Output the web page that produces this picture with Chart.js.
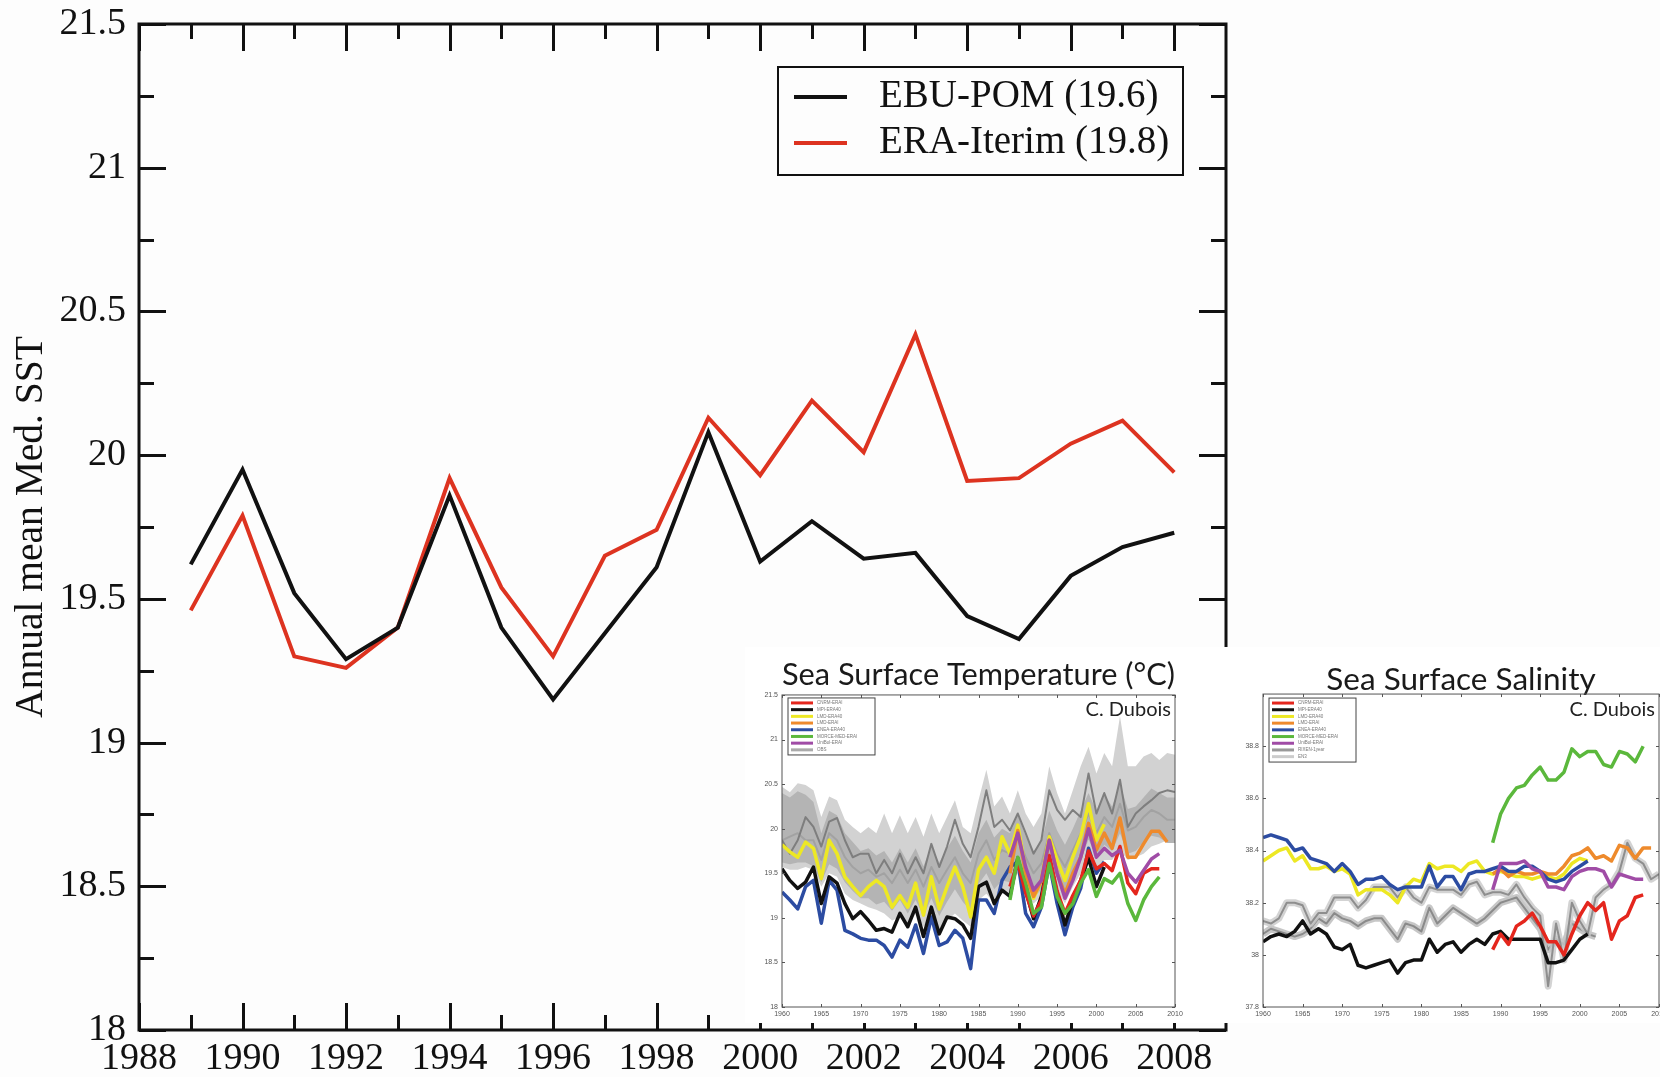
<!DOCTYPE html>
<html>
<head>
<meta charset="utf-8">
<script src="https://cdn.jsdelivr.net/npm/chart.js@4.4.1/dist/chart.umd.min.js"></script>
<style>
  html, body { margin: 0; padding: 0; background: #fdfdfd; overflow: hidden; }
  .box { position: absolute; }
  #main { left: 0; top: 0; }
  .inset { background: #ffffff; }
  #sst { left: 745px; top: 647px; }
  #sss { left: 1232px; top: 647px; }
</style>
</head>
<body>
<div class="box" id="main"><canvas id="mainChart" width="1660" height="1077"></canvas></div>
<div class="box inset" id="sst"><canvas id="sstChart" width="487" height="376"></canvas></div>
<div class="box inset" id="sss"><canvas id="sssChart" width="428" height="376"></canvas></div>
<script>
const range = (a, b) => Array.from({ length: b - a + 1 }, (_, i) => a + i);

// ---- main chart: annual mean Med. SST ----
const mainYears = range(1989, 2008);
const ebuPom = [19.62, 19.95, 19.52, 19.29, 19.40, 19.86, 19.40, 19.15, 19.38, 19.61,
                20.08, 19.63, 19.77, 19.64, 19.66, 19.44, 19.36, 19.58, 19.68, 19.73];
const eraInterim = [19.46, 19.79, 19.30, 19.26, 19.40, 19.92, 19.54, 19.30, 19.65, 19.74,
                    20.13, 19.93, 20.19, 20.01, 20.42, 19.91, 19.92, 20.04, 20.12, 19.94];
const mainXTicks = [1988, 1990, 1992, 1994, 1996, 1998, 2000, 2002, 2004, 2006, 2008];
const mainXMinor = [1989, 1991, 1993, 1995, 1997, 1999, 2001, 2003, 2005, 2007];
const mainYTicks = [18, 18.5, 19, 19.5, 20, 20.5, 21, 21.5];
const mainYMinor = [18.25, 18.75, 19.25, 19.75, 20.25, 20.75, 21.25];

// ---- inset 1: Sea Surface Temperature ----
const obsYears = range(1960, 2010);
const modelYears = range(1960, 2001);
const eraiYears = range(1989, 2008);
const eraiYearsLong = range(1989, 2009);
const insetXTicks = [1960, 1965, 1970, 1975, 1980, 1985, 1990, 1995, 2000, 2005, 2010];
const sstYTicks = [18, 18.5, 19, 19.5, 20, 20.5, 21, 21.5];

const sstCnrm = [19.35, 19.62, 19.28, 19.02, 19.20, 19.70, 19.30, 19.05, 19.25, 19.42,
                 19.75, 19.55, 19.61, 19.53, 19.80, 19.39, 19.27, 19.50, 19.55, 19.55];
const sstMpi = [19.55, 19.42, 19.33, 19.40, 19.57, 19.16, 19.46, 19.39, 19.16, 18.99,
                19.07, 18.97, 18.86, 18.88, 18.84, 19.05, 18.90, 19.12, 18.79, 19.12,
                18.82, 19.01, 18.99, 18.92, 18.77, 19.35, 19.40, 19.16, 19.31, 19.24,
                19.67, 19.31, 18.99, 19.24, 19.68, 19.27, 18.92, 19.20, 19.42, 19.67,
                19.35, 19.57];
const sstLmd40 = [19.82, 19.74, 19.68, 19.85, 19.78, 19.44, 19.87, 19.72, 19.46, 19.35,
                  19.25, 19.35, 19.42, 19.35, 19.12, 19.25, 19.12, 19.39, 19.03, 19.46,
                  19.10, 19.35, 19.57, 19.35, 19.01, 19.54, 19.68, 19.50, 19.91, 19.72,
                  20.04, 19.54, 19.22, 19.42, 19.91, 19.65, 19.42, 19.68, 19.91, 20.28,
                  19.87, 20.05];
const sstLmdErai = [19.50, 19.98, 19.50, 19.24, 19.42, 19.87, 19.50, 19.27, 19.50, 19.68,
                    20.06, 19.76, 19.95, 19.78, 20.12, 19.68, 19.68, 19.83, 19.97, 19.97, 19.85];
const sstEnea = [19.29, 19.20, 19.10, 19.35, 19.42, 18.94, 19.42, 19.31, 18.86, 18.82,
                 18.77, 18.75, 18.75, 18.69, 18.56, 18.75, 18.67, 18.92, 18.60, 19.01,
                 18.69, 18.73, 18.86, 18.77, 18.43, 19.20, 19.20, 19.05, 19.42, 19.57,
                 19.63, 19.05, 18.90, 19.12, 19.61, 19.16, 18.81, 19.12, 19.33, 19.78,
                 19.50, 19.63];
const sstMorce = [19.20, 19.68, 19.39, 19.05, 19.12, 19.61, 19.24, 19.05, 19.16, 19.39,
                  19.54, 19.24, 19.44, 19.39, 19.50, 19.16, 18.97, 19.20, 19.35, 19.46];
const sstUnibol = [19.68, 19.95, 19.57, 19.31, 19.42, 19.87, 19.50, 19.22, 19.42, 19.68,
                   20.00, 19.68, 19.78, 19.70, 19.76, 19.50, 19.40, 19.53, 19.66, 19.72];
const sstObsHigh = [20.47, 20.41, 20.51, 20.49, 20.43, 20.13, 20.36, 20.32, 20.10, 20.02,
                    19.95, 20.02, 19.95, 20.17, 19.95, 20.15, 19.95, 20.13, 19.91, 20.17,
                    19.95, 20.13, 20.32, 20.02, 19.95, 20.32, 20.66, 20.25, 20.36, 20.17,
                    20.43, 20.17, 20.02, 20.17, 20.70, 20.40, 20.17, 20.43, 20.70, 20.92,
                    20.62, 20.85, 20.70, 21.26, 20.70, 20.70, 20.81, 20.85, 20.77, 20.85, 20.83];
const sstObsLow = [19.57, 19.54, 19.54, 19.57, 19.54, 19.35, 19.50, 19.46, 19.27, 19.20,
                   19.16, 19.12, 19.09, 19.05, 18.97, 19.01, 18.90, 19.05, 18.90, 19.01,
                   18.86, 18.97, 19.05, 18.97, 18.90, 19.20, 19.27, 19.16, 19.27, 19.27,
                   19.50, 19.27, 19.16, 19.24, 19.54, 19.31, 19.16, 19.35, 19.50, 19.65,
                   19.54, 19.65, 19.65, 19.76, 19.65, 19.68, 19.72, 19.80, 19.83, 19.87, 19.87];
const sstObsInnerHigh = [20.40, 20.35, 20.42, 20.38, 20.30, 19.95, 20.20, 20.15, 19.95, 19.85,
                         19.75, 19.78, 19.70, 19.75, 19.62, 19.78, 19.62, 19.78, 19.58, 19.80,
                         19.62, 19.78, 19.92, 19.75, 19.62, 19.95, 20.10, 19.90, 20.00, 19.95,
                         20.15, 19.92, 19.75, 19.85, 20.20, 19.98, 19.82, 20.00, 20.20, 20.40,
                         20.20, 20.38, 20.25, 20.50, 20.22, 20.25, 20.35, 20.45, 20.40, 20.35, 20.35];
const sstObsInnerLow = [19.62, 19.60, 19.62, 19.62, 19.58, 19.40, 19.60, 19.55, 19.40, 19.30,
                        19.22, 19.22, 19.15, 19.18, 19.08, 19.20, 19.05, 19.20, 19.02, 19.22,
                        19.02, 19.18, 19.32, 19.18, 19.08, 19.38, 19.50, 19.32, 19.42, 19.40,
                        19.62, 19.38, 19.22, 19.32, 19.65, 19.45, 19.30, 19.45, 19.65, 19.88,
                        19.68, 19.82, 19.75, 19.95, 19.72, 19.75, 19.85, 19.92, 19.90, 19.84, 19.84];
const sstObsLineA = [19.87, 19.72, 19.87, 20.13, 20.02, 19.80, 20.08, 20.12, 19.87, 19.68,
                     19.72, 19.72, 19.50, 19.65, 19.50, 19.72, 19.50, 19.68, 19.50, 19.83,
                     19.57, 19.80, 20.10, 19.83, 19.68, 20.02, 20.43, 20.02, 20.10, 19.98,
                     20.17, 19.95, 19.72, 19.87, 20.43, 20.21, 20.10, 20.21, 20.13, 20.62,
                     20.17, 20.40, 20.17, 20.55, 20.02, 20.17, 20.25, 20.32, 20.40, 20.43, 20.41];
const sstObsLineB = [19.87, 19.91, 19.95, 19.87, 19.87, 19.65, 19.95, 19.87, 19.68, 19.57,
                     19.50, 19.54, 19.46, 19.50, 19.39, 19.54, 19.39, 19.54, 19.35, 19.57,
                     19.39, 19.54, 19.68, 19.50, 19.39, 19.72, 19.87, 19.65, 19.76, 19.72,
                     19.91, 19.68, 19.50, 19.61, 19.95, 19.72, 19.57, 19.76, 19.95, 20.17,
                     19.95, 20.13, 20.02, 20.28, 19.98, 20.02, 20.13, 20.21, 20.17, 20.10, 20.10];

// ---- inset 2: Sea Surface Salinity ----
const sssYTicks = [37.8, 38, 38.2, 38.4, 38.6, 38.8];
const obsYearsB = range(1960, 2002);
const sssCnrm = [38.02, 38.08, 38.04, 38.11, 38.13, 38.16, 38.11, 38.05, 38.05, 38.00,
                 38.08, 38.15, 38.20, 38.17, 38.20, 38.06, 38.13, 38.15, 38.22, 38.23];
const sssMpi = [38.05, 38.07, 38.08, 38.07, 38.09, 38.13, 38.08, 38.10, 38.08, 38.03,
                38.02, 38.04, 37.96, 37.95, 37.96, 37.97, 37.98, 37.93, 37.97, 37.98,
                37.98, 38.06, 38.01, 38.04, 38.05, 38.01, 38.04, 38.06, 38.04, 38.08,
                38.09, 38.06, 38.06, 38.06, 38.06, 38.06, 37.97, 37.97, 37.98, 38.02,
                38.06, 38.08];
const sssLmd40 = [38.36, 38.38, 38.40, 38.41, 38.36, 38.38, 38.33, 38.33, 38.34, 38.32,
                  38.33, 38.31, 38.23, 38.25, 38.25, 38.25, 38.23, 38.20, 38.26, 38.29,
                  38.28, 38.35, 38.33, 38.34, 38.34, 38.32, 38.35, 38.36, 38.32, 38.31,
                  38.32, 38.31, 38.30, 38.30, 38.29, 38.30, 38.30, 38.29, 38.31, 38.35,
                  38.37, 38.36];
const sssLmdErai = [38.31, 38.33, 38.30, 38.32, 38.31, 38.31, 38.32, 38.31, 38.31, 38.34,
                    38.38, 38.39, 38.41, 38.37, 38.38, 38.36, 38.42, 38.41, 38.37, 38.41, 38.41];
const sssEnea = [38.45, 38.46, 38.45, 38.44, 38.40, 38.41, 38.37, 38.36, 38.35, 38.32,
                 38.35, 38.32, 38.27, 38.29, 38.29, 38.30, 38.27, 38.25, 38.26, 38.26,
                 38.26, 38.34, 38.26, 38.30, 38.30, 38.25, 38.31, 38.32, 38.32, 38.33,
                 38.34, 38.32, 38.32, 38.34, 38.34, 38.32, 38.29, 38.28, 38.29, 38.32,
                 38.34, 38.36];
const sssMorce = [38.43, 38.54, 38.60, 38.64, 38.65, 38.69, 38.72, 38.67, 38.67, 38.70,
                  38.79, 38.76, 38.78, 38.78, 38.73, 38.72, 38.78, 38.77, 38.74, 38.80];
const sssUnibol = [38.25, 38.35, 38.35, 38.35, 38.36, 38.33, 38.32, 38.26, 38.26, 38.25,
                   38.30, 38.32, 38.33, 38.33, 38.32, 38.26, 38.31, 38.30, 38.29, 38.29];
const sssObsA = [38.13, 38.12, 38.14, 38.20, 38.20, 38.19, 38.12, 38.16, 38.16, 38.22,
                 38.22, 38.22, 38.18, 38.21, 38.26, 38.26, 38.26, 38.22, 38.26, 38.22,
                 38.20, 38.26, 38.25, 38.25, 38.25, 38.23, 38.27, 38.28, 38.23, 38.24,
                 38.24, 38.23, 38.27, 38.22, 38.18, 38.15, 37.88, 38.12, 37.98, 38.20,
                 38.13, 38.08, 38.22, 38.25, 38.27, 38.32, 38.43, 38.37, 38.35, 38.29, 38.31];
const sssObsB = [38.08, 38.10, 38.09, 38.08, 38.07, 38.08, 38.10, 38.14, 38.12, 38.16,
                 38.14, 38.13, 38.11, 38.13, 38.14, 38.14, 38.10, 38.06, 38.12, 38.11,
                 38.09, 38.18, 38.12, 38.15, 38.18, 38.16, 38.14, 38.12, 38.14, 38.17,
                 38.20, 38.21, 38.22, 38.18, 38.14, 38.10, 38.02, 38.06, 38.04, 38.12,
                 38.10, 38.08, 38.07];

const colors = {
  cnrm: '#e4261d', mpi: '#111111', lmd40: '#ede824', lmdErai: '#ee8a2c',
  enea: '#2c4ca2', morce: '#5bb83c', unibol: '#a04ca6'
};

const xy = (xs, ys) => ys.map((v, i) => ({ x: xs[i], y: v }));

// frame + inward ticks on all four sides
const frameTicks = {
  id: 'frameTicks',
  afterDatasetsDraw(chart, args, o) {
    if (!o.xMajor) return;
    const { ctx, chartArea: a, scales: { x, y } } = chart;
    ctx.save();
    ctx.strokeStyle = o.color;
    ctx.lineWidth = o.width;
    ctx.beginPath();
    const vt = (v, len) => {
      const px = Math.round(x.getPixelForValue(v)) + 0.5;
      ctx.moveTo(px, a.bottom); ctx.lineTo(px, a.bottom - len);
      ctx.moveTo(px, a.top); ctx.lineTo(px, a.top + len);
    };
    const ht = (v, len) => {
      const py = Math.round(y.getPixelForValue(v)) + 0.5;
      ctx.moveTo(a.left, py); ctx.lineTo(a.left + len, py);
      ctx.moveTo(a.right, py); ctx.lineTo(a.right - len, py);
    };
    o.xMajor.forEach(v => vt(v, o.major));
    (o.xMinor || []).forEach(v => vt(v, o.minor));
    o.yMajor.forEach(v => ht(v, o.major));
    (o.yMinor || []).forEach(v => ht(v, o.minor));
    ctx.stroke();
    ctx.strokeRect(a.left, a.top, a.right - a.left, a.bottom - a.top);
    ctx.restore();
  }
};

// boxed legend inside the plot + optional corner note
const boxLegend = {
  id: 'boxLegend',
  afterDraw(chart, args, o) {
    if (!o.items) return;
    const { ctx, chartArea: a } = chart;
    const x0 = a.left + o.x, y0 = a.top + o.y;
    ctx.save();
    ctx.fillStyle = o.background;
    ctx.fillRect(x0, y0, o.w, o.h);
    ctx.strokeStyle = o.border;
    ctx.lineWidth = o.borderWidth;
    ctx.strokeRect(x0, y0, o.w, o.h);
    ctx.font = o.font;
    ctx.textBaseline = 'middle';
    o.items.forEach((it, i) => {
      const yy = y0 + o.rowTop + i * o.rowGap;
      ctx.strokeStyle = it.color;
      ctx.lineWidth = it.width;
      ctx.beginPath();
      ctx.moveTo(x0 + o.lineX0, yy);
      ctx.lineTo(x0 + o.lineX1, yy);
      ctx.stroke();
      ctx.fillStyle = o.textColor;
      ctx.fillText(it.label, x0 + o.textX, yy);
    });
    if (o.note) {
      ctx.font = o.note.font;
      ctx.fillStyle = o.note.color;
      ctx.textAlign = 'right';
      ctx.fillText(o.note.text, a.right + o.note.dx, a.top + o.note.dy);
    }
    ctx.restore();
  }
};

const fixBox = (w, h) => (s) => {
  if (w !== undefined) s.width = w;
  if (h !== undefined) s.height = h;
  s.paddingLeft = 0; s.paddingRight = 0; s.paddingTop = 0; s.paddingBottom = 0;
};
const setTicks = (arr) => (s) => { s.ticks = arr.map(v => ({ value: v })); };

Chart.defaults.font.family = "'Liberation Serif', 'Times New Roman', serif";
Chart.defaults.color = '#111';

// ---------- main chart ----------
new Chart(document.getElementById('mainChart'), {
  type: 'line',
  data: {
    datasets: [
      { label: 'EBU-POM (19.6)', data: xy(mainYears, ebuPom), borderColor: '#111111', borderWidth: 4 },
      { label: 'ERA-Iterim (19.8)', data: xy(mainYears, eraInterim), borderColor: '#dd3320', borderWidth: 4 }
    ]
  },
  options: {
    responsive: false,
    animation: false,
    devicePixelRatio: 1,
    layout: { padding: { left: 0, top: 24, right: 434, bottom: 0 } },
    elements: { point: { radius: 0 }, line: { tension: 0, borderJoinStyle: 'miter' } },
    plugins: {
      legend: { display: false },
      tooltip: { enabled: false },
      frameTicks: { xMajor: mainXTicks, xMinor: mainXMinor, yMajor: mainYTicks, yMinor: mainYMinor,
                    major: 27, minor: 15, color: '#111', width: 3 },
      boxLegend: {
        items: [
          { label: 'EBU-POM (19.6)', color: '#111111', width: 4 },
          { label: 'ERA-Iterim (19.8)', color: '#dd3320', width: 4 }
        ],
        x: 639, y: 43, w: 405, h: 108, rowTop: 30, rowGap: 46,
        lineX0: 16, lineX1: 69, textX: 101,
        font: "39px 'Liberation Serif'", textColor: '#111',
        background: '#fdfdfd', border: '#111', borderWidth: 2
      }
    },
    scales: {
      x: {
        type: 'linear', min: 1988, max: 2009,
        afterFit: fixBox(undefined, 47),
        afterBuildTicks: setTicks(mainXTicks),
        grid: { display: false, drawTicks: false },
        border: { display: false },
        ticks: { font: { size: 38 }, padding: 6, maxRotation: 0, autoSkip: false, callback: v => String(v) }
      },
      y: {
        min: 18, max: 21.5,
        afterFit: fixBox(139, undefined),
        afterBuildTicks: setTicks(mainYTicks),
        grid: { display: false, drawTicks: false },
        border: { display: false },
        ticks: { font: { size: 38 }, padding: 13, autoSkip: false, callback: v => String(v) },
        title: { display: true, text: 'Annual mean Med. SST', font: { size: 39.5 }, padding: { top: 8, bottom: 0 } }
      }
    }
  },
  plugins: [frameTicks, boxLegend]
});

// ---------- insets ----------
function insetOptions(cfg) {
  return {
    responsive: false,
    animation: false,
    devicePixelRatio: 1,
    layout: { padding: { left: 0, top: 0, right: cfg.padRight, bottom: 0 } },
    elements: { point: { radius: 0 }, line: { tension: 0, borderJoinStyle: 'round' } },
    plugins: {
      legend: { display: false },
      tooltip: { enabled: false },
      title: {
        display: true, text: cfg.title, fullSize: false, color: '#1a1a1a',
        font: { family: 'Lato', size: 31.5, weight: 'normal', lineHeight: 0.9 },
        padding: cfg.titlePad
      },
      frameTicks: { xMajor: insetXTicks, yMajor: cfg.yTicks, major: 3, minor: 2, color: '#555', width: 1 },
      boxLegend: {
        items: cfg.legend, x: 6, y: cfg.legendY, w: 87, h: cfg.legendH, rowTop: 5, rowGap: 6.7,
        lineX0: 3, lineX1: 25, textX: 29,
        font: "4.5px 'Liberation Sans'", textColor: '#777',
        background: '#ffffff', border: '#444', borderWidth: 1,
        note: { text: 'C. Dubois', font: "20px Lato", color: '#222', dx: -4, dy: 15 }
      }
    },
    scales: {
      x: {
        type: 'linear', min: 1960, max: 2010,
        afterFit: fixBox(undefined, 16),
        afterBuildTicks: setTicks(insetXTicks),
        grid: { display: false, drawTicks: false },
        border: { display: false },
        ticks: { font: { family: 'Liberation Sans', size: 7 }, color: '#555', padding: 3,
                 maxRotation: 0, autoSkip: false, callback: v => String(v) }
      },
      y: {
        min: cfg.yMin, max: cfg.yMax,
        afterFit: fixBox(cfg.yWidth, undefined),
        afterBuildTicks: setTicks(cfg.yTicks),
        grid: { display: false, drawTicks: false },
        border: { display: false },
        ticks: { font: { family: 'Liberation Sans', size: 7 }, color: '#555', padding: 4,
                 autoSkip: false, callback: v => String(v) }
      }
    }
  };
}

const line = (label, xs, ys, color, width) => ({
  label, data: xy(xs, ys), borderColor: color, borderWidth: width, fill: false
});

new Chart(document.getElementById('sstChart'), {
  type: 'line',
  data: {
    datasets: [
      line('UniBol-ERAI', eraiYears, sstUnibol, colors.unibol, 3.5),
      line('LMD-ERAI', eraiYearsLong, sstLmdErai, colors.lmdErai, 3.5),
      line('MORCE-MED-ERAI', eraiYears, sstMorce, colors.morce, 3.5),
      line('CNRM-ERAI', eraiYears, sstCnrm, colors.cnrm, 3.5),
      line('LMD-ERA40', modelYears, sstLmd40, colors.lmd40, 3.5),
      line('MPI-ERA40', modelYears, sstMpi, colors.mpi, 3.5),
      line('ENEA-ERA40', modelYears, sstEnea, colors.enea, 3.5),
      line('OBS a', obsYears, sstObsLineA, '#7e7e7e', 2),
      line('OBS b', obsYears, sstObsLineB, '#a2a2a2', 2),
      { label: 'OBS inner hi', data: xy(obsYears, sstObsInnerHigh), borderWidth: 0, fill: '+1', backgroundColor: '#b4b4b4' },
      { label: 'OBS inner lo', data: xy(obsYears, sstObsInnerLow), borderWidth: 0, fill: false },
      { label: 'OBS hi', data: xy(obsYears, sstObsHigh), borderWidth: 0, fill: '+1', backgroundColor: '#d2d2d2' },
      { label: 'OBS lo', data: xy(obsYears, sstObsLow), borderWidth: 0, fill: false }
    ]
  },
  options: insetOptions({
    title: 'Sea Surface Temperature (°C)', titlePad: { top: 14, bottom: 5.6 },
    padRight: 57, yWidth: 37, yMin: 18, yMax: 21.5, yTicks: sstYTicks,
    legendY: 3, legendH: 57,
    legend: [
      { label: 'CNRM-ERAI', color: colors.cnrm, width: 3 },
      { label: 'MPI-ERA40', color: colors.mpi, width: 3 },
      { label: 'LMD-ERA40', color: colors.lmd40, width: 3 },
      { label: 'LMD-ERAI', color: colors.lmdErai, width: 3 },
      { label: 'ENEA-ERA40', color: colors.enea, width: 3 },
      { label: 'MORCE-MED-ERAI', color: colors.morce, width: 3 },
      { label: 'UniBol-ERAI', color: colors.unibol, width: 3 },
      { label: 'OBS', color: '#aaaaaa', width: 3 }
    ]
  }),
  plugins: [frameTicks, boxLegend]
});

new Chart(document.getElementById('sssChart'), {
  type: 'line',
  data: {
    datasets: [
      line('MORCE-MED-ERAI', eraiYears, sssMorce, colors.morce, 3.5),
      line('CNRM-ERAI', eraiYears, sssCnrm, colors.cnrm, 3.5),
      line('UniBol-ERAI', eraiYears, sssUnibol, colors.unibol, 3.5),
      line('ENEA-ERA40', modelYears, sssEnea, colors.enea, 3.5),
      line('LMD-ERAI', eraiYearsLong, sssLmdErai, colors.lmdErai, 3.5),
      line('LMD-ERA40', modelYears, sssLmd40, colors.lmd40, 3.5),
      line('MPI-ERA40', modelYears, sssMpi, colors.mpi, 3.5),
      line('EN3', obsYears, sssObsA, '#8e8e8e', 2),
      line('EN3 band', obsYears, sssObsA, 'rgba(200,200,200,0.8)', 7),
      line('RIXEN-1year', obsYearsB, sssObsB, '#8a8a8a', 2),
      line('RIXEN band', obsYearsB, sssObsB, 'rgba(175,175,175,0.7)', 7)
    ]
  },
  options: insetOptions({
    title: 'Sea Surface Salinity', titlePad: { top: 18.4, bottom: 0.3 },
    padRight: 1, yWidth: 31, yMin: 37.8, yMax: 39, yTicks: sssYTicks,
    legendY: 4, legendH: 64,
    legend: [
      { label: 'CNRM-ERAI', color: colors.cnrm, width: 3 },
      { label: 'MPI-ERA40', color: colors.mpi, width: 3 },
      { label: 'LMD-ERA40', color: colors.lmd40, width: 3 },
      { label: 'LMD-ERAI', color: colors.lmdErai, width: 3 },
      { label: 'ENEA-ERA40', color: colors.enea, width: 3 },
      { label: 'MORCE-MED-ERAI', color: colors.morce, width: 3 },
      { label: 'UniBol-ERAI', color: colors.unibol, width: 3 },
      { label: 'RIXEN-1year', color: '#999999', width: 3 },
      { label: 'EN3', color: '#cccccc', width: 3 }
    ]
  }),
  plugins: [frameTicks, boxLegend]
});
</script>
</body>
</html>
